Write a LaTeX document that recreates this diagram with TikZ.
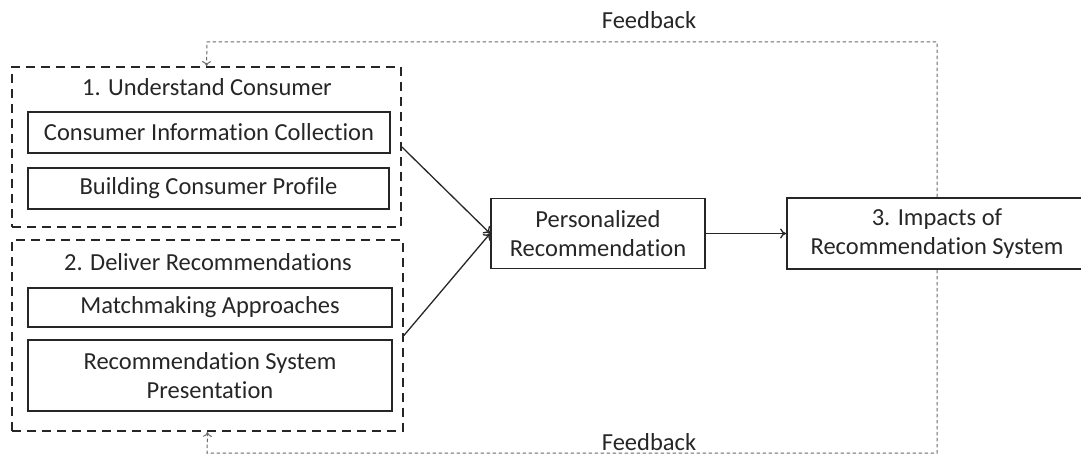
\documentclass[tikz,border=0pt]{standalone}
\usepackage{fontspec}
\setmainfont{Carlito}[Ligatures=NoCommon]
\usetikzlibrary{arrows.meta}
\definecolor{ink}{HTML}{262626}
\definecolor{fb}{HTML}{6A6A6A}
\tikzset{
  txt/.style={font=\fontsize{24.5}{29.5}\selectfont, text=ink, align=center, inner sep=0pt},
  grp/.style={draw=ink, line width=1.8pt, dash pattern=on 9pt off 6pt, inner sep=0pt},
  solidbox/.style={draw=ink, line width=1.8pt, inner sep=0pt, txt},
  flow/.style={draw=ink, line width=1.3pt, -{To[length=6pt,width=10pt]}},
  fback/.style={draw=fb, line width=1pt, dash pattern=on 3.5pt off 2.5pt, -{To[length=5pt,width=9pt]}}
}
\begin{document}
\begin{tikzpicture}[x=1pt,y=-1pt]
\useasboundingbox (0,0) rectangle (1081,457);
\begin{scope}
\clip (0,0) rectangle (1081,457);
% groups
\node[grp, minimum width=389pt, minimum height=160pt] (g1) at (206.5,147) {};
\node[grp, minimum width=391pt, minimum height=191pt] (g2) at (207.5,335.5) {};
\node[txt] (t1) at (207,87) {1. Understand Consumer};
\node[txt] (t2) at (208,262) {2. Deliver Recommendations};
% inner boxes
\node[solidbox, minimum width=362pt, minimum height=41pt] (cic) at (209,132.5) {Consumer Information Collection};
\node[solidbox, minimum width=361pt, minimum height=41pt] (bcp) at (208.5,188.5) {Building Consumer Profile};
\node[solidbox, minimum width=364pt, minimum height=39pt] (ma) at (210,307.5) {Matchmaking Approaches};
\node[solidbox, minimum width=364pt, minimum height=71pt] (rsp) at (210,375.5) {Recommendation System\\Presentation};
% main boxes
\node[solidbox, minimum width=214pt, minimum height=70pt] (pr) at (598,233.5) {Personalized\\Recommendation};
\node[solidbox, minimum width=300pt, minimum height=71pt] (im) at (937,233.5) {3. Impacts of\\Recommendation System};
% connectors
\draw[flow] (g1.east) -- (pr.west);
\draw[flow] (g2.east) -- (pr.west);
\draw[flow] (pr.east) -- (im.west |- pr.east);
% feedback
\coordinate (ftr) at (937,42);
\coordinate (ftl) at (207,42);
\coordinate (fbr) at (937,453);
\coordinate (fbl) at (207,453);
\draw[fback] (im.north) -- (ftr) -- (ftl) -- (g1.north);
\draw[fback] (im.south) -- (fbr) -- (fbl) -- (g2.south);
\node[txt] (fl1) at (649,20) {Feedback};
\node[txt] (fl2) at (649,442) {Feedback};
\end{scope}
\end{tikzpicture}
\end{document}
